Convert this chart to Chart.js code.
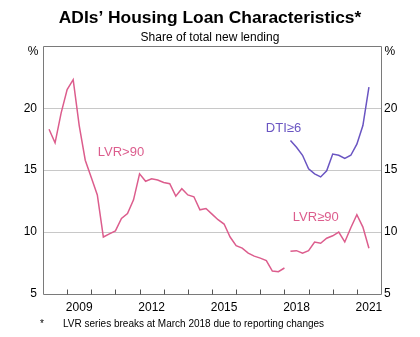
<!DOCTYPE html>
<html><head><meta charset="utf-8">
<script src="https://cdn.jsdelivr.net/npm/chart.js@4.4.0/dist/chart.umd.min.js"></script>
<style>html,body{margin:0;padding:0;background:#fff}</style>
</head><body>
<canvas id="c" width="420" height="337"></canvas>
<script>
// ---- Data (quarter-end dates, % of total new lending) ----
const lvrOldDates = [
  "2008-03","2008-06","2008-09","2008-12","2009-03","2009-06","2009-09","2009-12",
  "2010-03","2010-06","2010-09","2010-12","2011-03","2011-06","2011-09","2011-12",
  "2012-03","2012-06","2012-09","2012-12","2013-03","2013-06","2013-09","2013-12",
  "2014-03","2014-06","2014-09","2014-12","2015-03","2015-06","2015-09","2015-12",
  "2016-03","2016-06","2016-09","2016-12","2017-03","2017-06","2017-09","2017-12"];
const lvrOldValues = [
  18.3,17.2,19.6,21.5,22.3,18.6,15.8,14.4,
  13.0,9.6,9.85,10.1,11.1,11.5,12.6,14.7,
  14.1,14.3,14.2,14.0,13.9,12.9,13.5,13.0,
  12.85,11.8,11.9,11.45,11.0,10.65,9.6,8.9,
  8.7,8.3,8.06,7.9,7.7,6.85,6.8,7.1];
const newDates = [
  "2018-03","2018-06","2018-09","2018-12","2019-03","2019-06","2019-09","2019-12",
  "2020-03","2020-06","2020-09","2020-12","2021-03","2021-06"];
const lvrNewValues = [8.45,8.5,8.3,8.5,9.2,9.1,9.5,9.7,10.0,9.2,10.35,11.4,10.4,8.7];
const dtiValues    = [17.4,16.85,16.2,15.1,14.7,14.45,14.95,16.3,16.2,15.95,16.2,17.1,18.6,21.7];
const xLabelYears = [2009, 2012, 2015, 2018, 2021];
const yTickValues = [5, 10, 15, 20, 25];
const titleText = "ADIs\u2019 Housing Loan Characteristics*";
const subtitleText = "Share of total new lending";
const footnoteText = "LVR series breaks at March 2018 due to reporting changes";
const unitText = "%";

// ---- styling ----
const PINK = '#dc5d8d';
const PURPLE = '#6a55c2';
const FONT = '"Liberation Sans", Arial, Helvetica, sans-serif';

function toYear(s){ const [y,m] = s.split('-').map(Number); return y + m/12; }
function pts(dates, vals){ return dates.map((d,i)=>({x: toYear(d), y: vals[i]})); }

const seriesLabels = [
  {text:'LVR>90', color:PINK, x:2011.23, y:16.45},
  {text:'DTI\u22656', color:PURPLE, x:2017.96, y:18.4},
  {text:'LVR\u226590', color:PINK, x:2019.3, y:11.2}
];

const decor = {
  id:'decor',
  afterDraw(chart){
    const {ctx, chartArea:a, scales:{x, y}} = chart;
    ctx.save();
    ctx.strokeStyle = '#7a7a7a'; ctx.lineWidth = 1;
    const L = Math.round(a.left)+0.5, R = Math.round(a.right)+0.5, T = Math.round(a.top)+0.5, B = Math.round(a.bottom)+0.5;
    ctx.beginPath(); ctx.moveTo(L,T); ctx.lineTo(R,T); ctx.lineTo(R,B); ctx.lineTo(L,B); ctx.closePath(); ctx.stroke();
    ctx.strokeStyle = '#555';
    for (let yr = Math.ceil(x.min)+1; yr < x.max; yr++){
      const px = Math.round(x.getPixelForValue(yr))+0.5;
      ctx.beginPath(); ctx.moveTo(px, B); ctx.lineTo(px, B-5); ctx.stroke();
    }
    ctx.font = '13px ' + FONT; ctx.textAlign = 'center'; ctx.textBaseline = 'middle';
    for (const l of seriesLabels){
      ctx.fillStyle = l.color;
      ctx.fillText(l.text, x.getPixelForValue(l.x), y.getPixelForValue(l.y));
    }
    // unit labels just under the top of each axis
    ctx.fillStyle = '#000'; ctx.font = '12px ' + FONT; ctx.textBaseline = 'middle';
    ctx.textAlign = 'right'; ctx.fillText(unitText, L - 5, T + 5);
    ctx.textAlign = 'left'; ctx.fillText(unitText, R + 3, T + 5);
    // footnote
    ctx.font = '10px ' + FONT; ctx.textAlign = 'left'; ctx.textBaseline = 'alphabetic';
    ctx.fillText('*', 40, 327);
    ctx.fillText(footnoteText, 63, 327);
    ctx.restore();
  }
};

const lineStyle = {borderWidth:1.5, pointRadius:0, fill:false, tension:0, showLine:true};

new Chart(document.getElementById('c'), {
  type:'scatter',
  data:{datasets:[
    Object.assign({label:'LVR>90', data:pts(lvrOldDates, lvrOldValues), borderColor:PINK, yAxisID:'y'}, lineStyle),
    Object.assign({label:'LVR\u226590', data:pts(newDates, lvrNewValues), borderColor:PINK, yAxisID:'y'}, lineStyle),
    Object.assign({label:'DTI\u22656', data:pts(newDates, dtiValues), borderColor:PURPLE, yAxisID:'y'}, lineStyle)
  ]},
  options:{
    responsive:false, animation:false, devicePixelRatio:1,
    layout:{padding:{left:0,right:0,top:0,bottom:18}},
    plugins:{
      legend:{display:false}, tooltip:{enabled:false},
      title:{display:true, text:titleText, color:'#000', font:{family:FONT, size:17.4, weight:'bold', lineHeight:1.2}, padding:{top:8,bottom:2}},
      subtitle:{display:true, text:subtitleText, color:'#000', font:{family:FONT, size:12, lineHeight:1.2}, padding:{top:0,bottom:1}}
    },
    scales:{
      x:{type:'linear', min:2008, max:2022,
        afterBuildTicks(s){ s.ticks = xLabelYears.map(v=>({value:v+0.5})); },
        afterFit(s){ s.height = 25; },
        grid:{display:false}, border:{display:false},
        ticks:{color:'#000', font:{family:FONT, size:12}, padding:-2, maxRotation:0, autoSkip:false,
          callback:(v)=>String(Math.floor(v))}},
      y:{type:'linear', position:'left', min:5, max:25,
        afterBuildTicks(s){ s.ticks = yTickValues.map(v=>({value:v})); },
        afterFit(s){ s.width = 43; },
        border:{display:false},
        grid:{drawTicks:false, color:(c)=> (c.tick && (c.tick.value===5||c.tick.value===25)) ? 'rgba(0,0,0,0)' : '#c8c8c8', lineWidth:1},
        ticks:{color:'#000', font:{family:FONT, size:12}, padding:6, callback:(v)=> v===25 ? '' : String(v)}},
      y2:{type:'linear', position:'right', min:5, max:25,
        afterBuildTicks(s){ s.ticks = yTickValues.map(v=>({value:v})); },
        afterFit(s){ s.width = 39; },
        border:{display:false}, grid:{display:false, drawTicks:false},
        ticks:{color:'#000', font:{family:FONT, size:12}, padding:3, callback:(v)=> v===25 ? '' : String(v)}}
    }
  },
  plugins:[decor]
});
</script>
</body></html>
